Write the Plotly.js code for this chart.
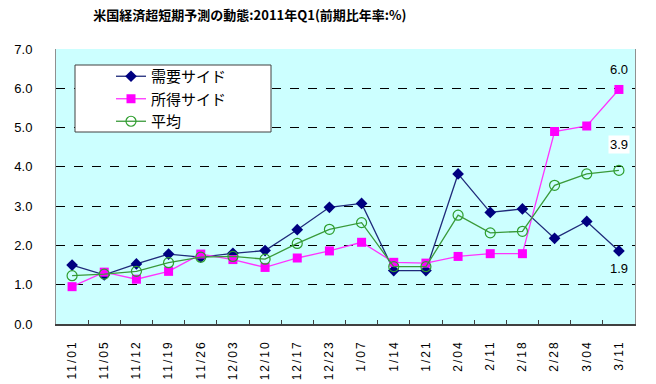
<!DOCTYPE html>
<html><head><meta charset="utf-8">
<script src="https://cdn.plot.ly/plotly-3.0.1.min.js"></script>
<style>
body{margin:0;background:#fff}
#chart .xtick text{letter-spacing:2px}
</style>
</head><body>
<div id="chart" style="width:656px;height:384px"></div>
<script>
const categories = ["11/01","11/05","11/12","11/19","11/26","12/03","12/10","12/17","12/23","1/07","1/14","1/21","2/04","2/11","2/18","2/28","3/04","3/11"];
const demandSide = [1.50,1.25,1.53,1.78,1.70,1.80,1.87,2.40,2.97,3.07,1.36,1.36,3.82,2.84,2.93,2.18,2.61,1.86];
const incomeSide = [0.95,1.32,1.14,1.34,1.78,1.64,1.44,1.68,1.86,2.08,1.57,1.55,1.72,1.79,1.79,4.90,5.04,5.97];
const average    = [1.23,1.27,1.34,1.56,1.70,1.72,1.65,2.05,2.41,2.58,1.46,1.46,2.77,2.32,2.36,3.53,3.82,3.91];
const seriesNames = ["需要サイド","所得サイド","平均"];
const endLabels = ["1.9","6.0","3.9"];
const titleText = "米国経済超短期予測の動態:2011年Q1(前期比年率:%)";

const jp = "'Noto Sans CJK JP', 'Liberation Sans', Arial, sans-serif";
const lat = "'Liberation Sans', Arial, sans-serif";
const last = categories[categories.length-1];

const traces = [
  {x: categories, y: demandSide, name: seriesNames[0], type: 'scatter', mode: 'lines+markers',
   line: {color: '#1F2A7A', width: 1.3}, marker: {symbol: 'diamond', size: 9, color: '#000080'}},
  {x: categories, y: incomeSide, name: seriesNames[1], type: 'scatter', mode: 'lines+markers',
   line: {color: '#FF33FF', width: 1.3}, marker: {symbol: 'square', size: 9, color: '#FF00FF'}},
  {x: categories, y: average, name: seriesNames[2], type: 'scatter', mode: 'lines+markers',
   line: {color: '#3A9A3A', width: 1.3}, marker: {symbol: 'circle-open', size: 10, color: '#2E9E2E', line: {width: 1.2}}}
];

const layout = {
  width: 656, height: 384,
  margin: {l: 56, r: 21, t: 49, b: 60},
  paper_bgcolor: '#ffffff', plot_bgcolor: '#CCFFFF',
  title: {text: '<b>' + titleText + '</b>', x: 0.381, xanchor: 'center', y: 0.96, yanchor: 'middle',
          font: {family: jp, size: 13, color: '#000'}},
  showlegend: true,
  legend: {x: (111-56)/579, y: (324-60)/275, xanchor: 'left', yanchor: 'top', bgcolor: 'rgba(0,0,0,0)',
           borderwidth: 0, font: {family: jp, size: 15, color: '#000'}},
  shapes: [
    {type: 'rect', xref: 'paper', yref: 'paper', layer: 'above',
     x0: (75-56)/579, x1: (271-56)/579, y0: (324-132)/275, y1: (324-65)/275,
     fillcolor: '#ffffff', line: {color: '#404040', width: 1}}
  ],
  xaxis: {type: 'category', showgrid: false, showline: true, linecolor: '#404040', linewidth: 1.5,
          ticks: 'inside', tickson: 'boundaries', ticklen: 4, tickcolor: '#404040',
          tickangle: -90, ticklabelstandoff: 10,
          tickfont: {family: lat, size: 12, color: '#000'},
          range: [-0.5, categories.length - 0.5], fixedrange: true},
  yaxis: {range: [0, 7], dtick: 1, tickformat: '.1f', showgrid: true, gridcolor: '#000000',
          griddash: 'dash', gridwidth: 1, zeroline: false, showline: true, linecolor: '#909090',
          mirror: true, ticks: '', ticklabelstandoff: 20,
          tickfont: {family: lat, size: 13, color: '#000'}},
  annotations: [
    {x: last, y: incomeSide[incomeSide.length-1], text: endLabels[1], showarrow: false, yshift: 20,
     font: {family: lat, size: 13, color: '#000'}},
    {x: last, y: average[average.length-1], text: endLabels[2], showarrow: false, yshift: 26,
     bgcolor: '#ffffff', font: {family: lat, size: 13, color: '#000'}},
    {x: last, y: demandSide[demandSide.length-1], text: endLabels[0], showarrow: false, yshift: -18,
     font: {family: lat, size: 13, color: '#000'}}
  ]
};

Plotly.newPlot('chart', traces, layout, {staticPlot: true, displayModeBar: false});
</script>
</body></html>
